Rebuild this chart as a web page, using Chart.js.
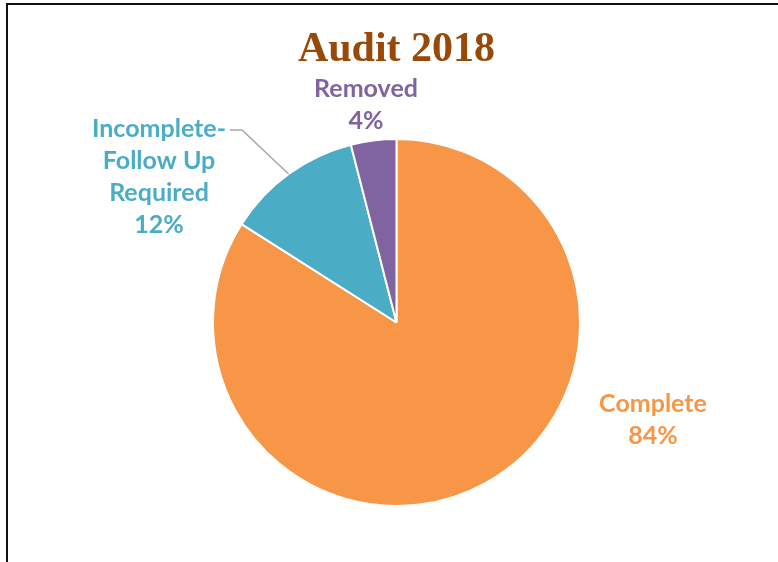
<!DOCTYPE html>
<html>
<head>
<meta charset="utf-8">
<script src="https://cdn.jsdelivr.net/npm/chart.js@4/dist/chart.umd.min.js"></script>
<style>
  html, body { margin: 0; padding: 0; background: #fff; overflow: hidden; }
  #wrap { position: relative; width: 778px; height: 562px; }
  #frame { position: absolute; left: 6px; top: 3px; width: 820px; height: 620px; border: 2px solid #111; box-sizing: border-box; pointer-events: none; }
  canvas { position: absolute; left: 0; top: 0; }
</style>
</head>
<body>
<div id="wrap">
  <canvas id="c" width="778" height="562"></canvas>
  <div id="frame"></div>
</div>
<script>
const categories = ['Complete', 'Incomplete-Follow Up Required', 'Removed'];
const labelLines = [['Complete'], ['Incomplete-', 'Follow Up', 'Required'], ['Removed']];
const values = [84, 12, 4];
const colors = ['#F79646', '#4BACC6', '#8064A2'];
const titleText = 'Audit 2018';

// label placement relative to pie centre (px): [dx, dy of first baseline]
const labelOffsets = [[256.5, 89.5], [-237.5, -185.5], [-30.5, -225.5]];
const total = values.reduce((a, b) => a + b, 0);

const labelPlugin = {
  id: 'sliceLabels',
  afterDatasetsDraw(chart) {
    const ctx = chart.ctx;
    const meta = chart.getDatasetMeta(0);
    ctx.save();
    ctx.font = 'bold 25px Lato';
    ctx.textAlign = 'center';
    ctx.textBaseline = 'alphabetic';
    const lineH = 32;
    meta.data.forEach((arc, i) => {
      const p = arc.getProps(['x', 'y', 'startAngle', 'endAngle', 'outerRadius'], true);
      const pct = Math.round(values[i] / total * 100) + '%';
      const lines = labelLines[i].concat([pct]);
      const lx = p.x + labelOffsets[i][0];
      const ly = p.y + labelOffsets[i][1];
      ctx.fillStyle = colors[i];
      lines.forEach((t, k) => ctx.fillText(t, lx, ly + k * lineH));
      if (i === 1) {
        const mid = (p.startAngle + p.endAngle) / 2;
        const ex = p.x + Math.cos(mid) * p.outerRadius;
        const ey = p.y + Math.sin(mid) * p.outerRadius;
        const w = ctx.measureText(lines[0]).width;
        const sx = lx + w / 2 + 4;
        const sy = ly - 7;
        ctx.strokeStyle = '#A6A6A6';
        ctx.lineWidth = 1.5;
        ctx.beginPath();
        ctx.moveTo(sx, sy);
        ctx.lineTo(sx + 12, sy);
        ctx.lineTo(ex, ey);
        ctx.stroke();
      }
    });
    ctx.restore();
  }
};

new Chart(document.getElementById('c'), {
  type: 'pie',
  data: {
    labels: categories,
    datasets: [{
      data: values,
      backgroundColor: colors,
      borderColor: '#ffffff',
      borderWidth: 2
    }]
  },
  options: {
    responsive: false,
    animation: false,
    layout: { padding: { top: 0, bottom: 55, left: 212, right: 197 } },
    plugins: {
      legend: { display: false },
      tooltip: { enabled: false },
      title: {
        display: true,
        text: titleText,
        color: '#984807',
        font: { family: 'Liberation Serif', size: 42, weight: 'bold', lineHeight: 1.2 },
        padding: { top: 25, bottom: 62.6 }
      }
    }
  },
  plugins: [labelPlugin]
});
</script>
</body>
</html>
